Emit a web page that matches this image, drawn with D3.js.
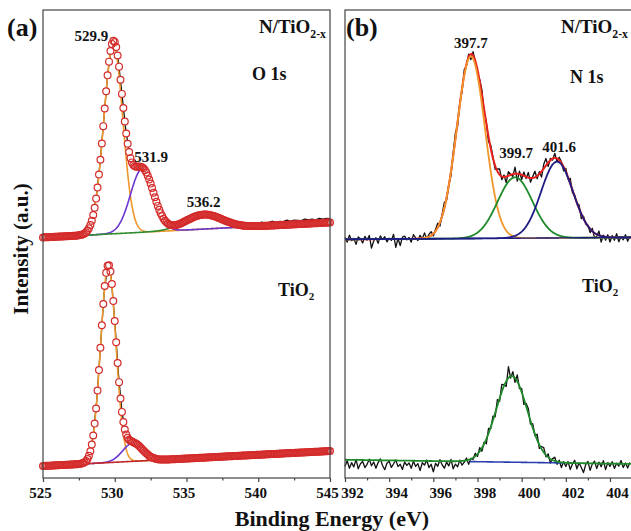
<!DOCTYPE html>
<html>
<head>
<meta charset="utf-8">
<script src="https://cdn.jsdelivr.net/npm/d3@7"></script>
<style>
  body { margin: 0; background: #fff; }
  svg { display: block; }
  text { font-family: "Liberation Serif", "Times New Roman", serif; font-weight: bold; fill: #111; }
</style>
</head>
<body>
<svg id="chart" width="631" height="531"></svg>
<script>
// ---- data ----
// (a) O 1s, energies in eV, intensities in a.u. (stacked offset already included)
var o1sRange = [525, 545];
var o1sTicks = [525, 530, 535, 540, 545];
var o1sMinor = [527.5, 532.5, 537.5, 542.5];

var o1sDopedBg = [51.4, 54.6];              // linear background at 525 / 545
var o1sDopedCenters = [529.9, 531.9, 536.2];
var o1sDopedHeights = [40.6, 13.5, 3.1];
var o1sDopedFwhm = [1.55, 1.9, 3.0];
var o1sDopedLabels = ["529.9", "531.9", "536.2"];
// raw minus fit, 525..545 every 0.25 eV
var o1sDopedResid = [
  -0.4, -0.6, -0.3, -0.5, -0.4, -0.6, -0.3, -0.2,
  -0.2, -0.1, 0, 0, 0, 0, 0, 0,
  0, 0, 0, 0, 0, 0, 0, 0,
  0, 0, 0, 0, 0, 0, 0, 0,
  0, 0, 0.1, 0, 0.1, 0, 0.1, 0,
  0, 0.1, 0, 0, 0, 0.1, 0, 0.1,
  0, 0.1, 0.2, 0.1, 0.2, 0.1, 0.2, 0.3,
  0.2, 0.3, 0.5, 0.3, 0.6, 0.8, 0.5, 0.7,
  0.9, 0.6, 0.8, 0.7, 1.0, 0.7, 0.9, 0.8,
  0.7, 1.0, 0.8, 0.9, 0.7, 1.0, 0.8, 0.9,
  0.8
];

var o1sPureBg = [2.56, 5.76];
var o1sPureCenters = [529.55, 531.25];
var o1sPureHeights = [42.1, 3.9];
var o1sPureFwhm = [1.25, 1.65];
var o1sPureResid = [
  -0.2, -0.3, -0.1, -0.3, -0.2, -0.1, -0.2, -0.1,
  0, 0, 0, 0, 0, 0, 0, 0,
  0, 0, 0, 0, 0, 0, 0, 0,
  0, 0, 0, 0, 0, 0, 0, 0,
  0, 0, 0, 0, 0, 0, 0, 0,
  0, 0.1, 0, 0, 0.1, 0, 0, 0.1,
  0, 0, 0.1, 0, 0, 0.1, 0, 0.1,
  0.1, 0.2, 0.1, 0.3, 0.2, 0.4, 0.3, 0.5,
  0.6, 0.4, 0.7, 0.5, 0.6, 0.7, 0.5, 0.6,
  0.5, 0.6, 0.4, 0.5, 0.6, 0.4, 0.5, 0.4,
  0.4
];

// (b) N 1s
var n1sRange = [392, 405];
var n1sTicks = [392, 394, 396, 398, 400, 402, 404];
var n1sMinor = [393, 395, 397, 399, 401, 403];

var n1sDopedBg = [51.0, 51.4];
var n1sDopedCenters = [397.7, 399.7, 401.6];
var n1sDopedHeights = [38.9, 13.0, 16.3];
var n1sDopedFwhm = [1.5, 1.85, 1.7];
var n1sDopedLabels = ["397.7", "399.7", "401.6"];
// raw minus fit, 392.0..404.9 every 0.1 eV
var n1sDopedResid = [
  0.4, -0.6, 0.9, -0.3, 0.2, -1.1, 0.5, 0.1, -0.8, 0.6,
  -0.2, 0.8, -1.9, -0.4, 0.3, -0.9, 0.7, -0.1, 0.5, -0.6,
  0.2, -0.3, 1.0, -1.8, 0.1, -1.4, 0.4, 0.6, -0.2, 0.3,
  -0.7, 0.9, 0.2, -0.4, 0.7, -0.1, 1.1, -0.3, 0.5, 0.8,
  -0.5, 0.3, 0.9, -0.8, 0.4, 1.2, -0.6, 0.2, -0.9, 0.7,
  1.3, -1.0, 0.5, -0.7, 1.1, -0.4, 0.6, -1.2, 0.8, -0.3,
  -0.9, 0.4, 1.0, -0.6, 0.3, -1.1, 0.7, 0.2, -0.8, 0.5,
  1.2, -0.7, 0.4, -1.3, 0.9, 0.1, -0.5, 1.4, -1.6, 0.6,
  -1.0, 0.8, -0.4, 1.1, -0.9, 0.3, 1.3, -0.6, 0.5, -1.2,
  0.9, 1.5, -0.8, 0.4, -0.3, 1.0, -0.7, 0.6, 0.2, -0.9,
  0.7, -0.4, 1.1, -0.6, 0.3, -0.2, 0.8, -1.0, 0.5, -0.3,
  0.2, -0.8, 0.6, -1.1, -0.4, 0.9, -1.3, 0.3, -0.7, 0.5,
  -1.0, 0.4, -0.6, 0.8, -0.9, 0.2, -0.5, 0.6, -0.8, 0.3
];

var n1sPureBg = [3.9, 3.0];
var n1sPureCenters = [399.55];
var n1sPureHeights = [18.4];
var n1sPureFwhm = [1.66];
var n1sPureBaseSpan = [397.65, 401.9];
var n1sPureResid = [
  -1.4, -0.2, -1.8, -0.6, -1.5, 0.1, -1.9, -0.8, -0.3, -1.6,
  -0.9, 0.2, -1.2, -0.4, -1.7, -0.5, 0.3, -1.1, -2.0, -0.6,
  -0.2, -1.5, -0.7, 0.1, -1.3, -0.8, -1.9, -0.3, -1.0, -0.5,
  -1.6, -0.1, -1.2, -0.6, -2.1, -0.4, -0.9, 0.2, -1.4, -0.7,
  -2.3, -0.5, -1.1, 0.3, -0.8, -1.5, -0.2, -1.0, 0.4, -1.6,
  -0.6, -1.2, 0.2, -0.9, -0.3, 0.5, -1.0, 0.1, -0.4, 0.6,
  -0.5, 0.8, -0.7, 0.4, -1.0, 1.1, -0.3, 0.9, -0.8, 1.3,
  -0.6, 1.6, 0.3, -1.1, 2.4, -0.4, 1.0, -0.9, 1.4, -0.5,
  0.8, -1.2, 0.6, 1.1, -0.7, 0.9, -0.3, 1.2, -0.8, 0.5,
  1.0, -0.4, 0.7, -0.9, 0.3, 0.8, -0.6, 0.4, -1.1, 0.2,
  -0.8, 0.3, -1.4, -0.2, 0.6, -1.2, 0.1, -0.9, -2.0, -0.3,
  0.4, -1.5, -0.1, 0.5, -1.1, 0.3, -0.7, 0.6, -1.3, 0.2,
  -0.6, 0.4, -1.0, 0.1, -0.5, 0.7, -0.8, 0.2, -0.9, 0.3
];

// ---- styles ----
var col = {
  orange: "#f0962a", purple: "#6a35d0", greenA: "#2e8b2e", greenB: "#1e8a2a",
  navy: "#1c1c82", env: "#e8201c", circle: "#d42b2b", bgA: "#c0282a", frame: "#444"
};

var svg = d3.select("#chart");
var plotTop = 10, plotBottom = 478;
var y = d3.scaleLinear().domain([0, 100]).range([plotBottom, plotTop]);
var xA = d3.scaleLinear().domain(o1sRange).range([43, 330]);
var xB = d3.scaleLinear().domain([392, 404]).range([345, 610]);

function gauss(c, h, w) {
  return function (e) { return h * Math.exp(-4 * Math.LN2 * (e - c) * (e - c) / (w * w)); };
}
function bgFn(bg, range) {
  return function (e) { return bg[0] + (bg[1] - bg[0]) * (e - range[0]) / (range[1] - range[0]); };
}
function envelope(bg, comps) {
  return function (e) { return bg(e) + d3.sum(comps, function (f) { return f(e); }); };
}
function steps(a, b, s) {
  var n = Math.round((b - a) / s);
  return d3.range(n + 1).map(function (i) { return a + i * s; });
}
function drawCurve(g, x, fn, span, color, width) {
  var line = d3.line().x(function (e) { return x(e); }).y(function (e) { return y(fn(e)); });
  g.append("path").datum(steps(span[0], span[1], 0.02))
    .attr("d", line).attr("fill", "none")
    .attr("stroke", color).attr("stroke-width", width);
}
function drawRaw(g, x, fit, start, step, resid) {
  var line = d3.line()
    .x(function (d, i) { return x(start + i * step); })
    .y(function (d, i) { return y(fit(start + i * step) + d); });
  g.append("path").datum(resid).attr("d", line).attr("fill", "none")
    .attr("stroke", "#111").attr("stroke-width", 1.3).attr("stroke-linejoin", "round");
}
function addSubText(g, x0, y0, main, sub, size) {
  var t = g.append("text").attr("x", x0).attr("y", y0).attr("font-size", size).attr("text-anchor", "end");
  t.append("tspan").text(main);
  t.append("tspan").attr("dy", 5).attr("font-size", size * 0.62).text(sub);
}

// ---------------- panel (a) ----------------
var ga = svg.append("g");

function drawO1s(bg, centers, heights, fwhm, resid, colors, bgColor) {
  var bgf = bgFn(bg, o1sRange);
  var comps = centers.map(function (c, i) { return gauss(c, heights[i], fwhm[i]); });
  var env = envelope(bgf, comps);
  drawRaw(ga, xA, env, o1sRange[0], 0.25, resid);
  comps.forEach(function (f, i) {
    drawCurve(ga, xA, function (e) { return bgf(e) + f(e); }, o1sRange, colors[i], 1.6);
  });
  if (bgColor) drawCurve(ga, xA, bgf, o1sRange, bgColor, 1.6);
  var pts = steps(o1sRange[0], o1sRange[1], 0.1);
  // white interiors first, then every outline on top
  ["fill", "ring"].forEach(function (pass) {
    ga.append("g").selectAll("circle").data(pts)
      .enter().append("circle")
      .attr("cx", function (e) { return xA(e); })
      .attr("cy", function (e) { return y(env(e)); })
      .attr("r", 3.4)
      .attr("fill", pass === "fill" ? "#fff" : "none")
      .attr("stroke", pass === "fill" ? "none" : col.circle)
      .attr("stroke-width", 1.2);
  });
  return env;
}

var envA1 = drawO1s(o1sDopedBg, o1sDopedCenters, o1sDopedHeights, o1sDopedFwhm, o1sDopedResid,
  [col.orange, col.purple, col.greenA], null);
drawO1s(o1sPureBg, o1sPureCenters, o1sPureHeights, o1sPureFwhm, o1sPureResid,
  [col.orange, col.purple], col.bgA);

// frame + axis
ga.append("rect").attr("x", xA(525)).attr("y", plotTop)
  .attr("width", xA(545) - xA(525)).attr("height", plotBottom - plotTop)
  .attr("fill", "none").attr("stroke", col.frame).attr("stroke-width", 1.2);
var axA = ga.append("g").attr("transform", "translate(0," + plotBottom + ")")
  .call(d3.axisBottom(xA).tickValues(o1sTicks).tickSize(4).tickSizeOuter(0).tickFormat(d3.format("d")));
ga.append("g").attr("transform", "translate(0," + plotBottom + ")")
  .call(d3.axisBottom(xA).tickValues(o1sMinor).tickSize(2.5).tickSizeOuter(0).tickFormat(""))
  .select(".domain").remove();

// peak labels (a)
var labA = [{anchor: "end", dx: -5, dy: 4}, {anchor: "middle", dx: 9, dy: -2}, {anchor: "middle", dx: 0, dy: -4}];
o1sDopedLabels.forEach(function (s, i) {
  var c = o1sDopedCenters[i];
  ga.append("text").attr("x", xA(c) + labA[i].dx).attr("y", y(envA1(c)) - 3.5 + labA[i].dy)
    .attr("text-anchor", labA[i].anchor).attr("font-size", 15).text(s);
});

// ---------------- panel (b) ----------------
var gb = svg.append("g");

// N/TiO2-x
var bgB1 = bgFn(n1sDopedBg, n1sRange);
var compsB1 = n1sDopedCenters.map(function (c, i) { return gauss(c, n1sDopedHeights[i], n1sDopedFwhm[i]); });
var envB1 = envelope(bgB1, compsB1);
drawRaw(gb, xB, envB1, 392, 0.1, n1sDopedResid);
drawCurve(gb, xB, envB1, n1sRange, col.env, 2);
[col.orange, col.greenB, col.navy].forEach(function (c, i) {
  drawCurve(gb, xB, function (e) { return bgB1(e) + compsB1[i](e); }, n1sRange, c, 1.8);
});
drawCurve(gb, xB, bgB1, n1sRange, col.navy, 1.4);

// TiO2
var bgB2 = bgFn(n1sPureBg, n1sRange);
var compsB2 = n1sPureCenters.map(function (c, i) { return gauss(c, n1sPureHeights[i], n1sPureFwhm[i]); });
var envB2 = envelope(bgB2, compsB2);
drawRaw(gb, xB, envB2, 392, 0.1, n1sPureResid);
drawCurve(gb, xB, bgB2, n1sPureBaseSpan, "#2b3fb0", 1.6);
drawCurve(gb, xB, envB2, n1sRange, col.greenB, 1.8);

gb.append("rect").attr("x", xB(392)).attr("y", plotTop)
  .attr("width", xB(405.4) - xB(392)).attr("height", plotBottom - plotTop)
  .attr("fill", "none").attr("stroke", col.frame).attr("stroke-width", 1.2);
var axB = gb.append("g").attr("transform", "translate(0," + plotBottom + ")")
  .call(d3.axisBottom(xB).tickValues(n1sTicks).tickSize(4).tickSizeOuter(0).tickFormat(d3.format("d")));
gb.append("g").attr("transform", "translate(0," + plotBottom + ")")
  .call(d3.axisBottom(xB).tickValues(n1sMinor).tickSize(2.5).tickSizeOuter(0).tickFormat(""))
  .select(".domain").remove();

var labB = [{dx: 0, dy: -6}, {dx: 1, dy: -16}, {dx: 2, dy: -6}];
n1sDopedLabels.forEach(function (s, i) {
  var c = n1sDopedCenters[i];
  gb.append("text").attr("x", xB(c) + labB[i].dx).attr("y", y(envB1(c)) + labB[i].dy)
    .attr("text-anchor", "middle").attr("font-size", 15).text(s);
});

// axis styling
[axA, axB].forEach(function (ax, k) {
  ax.select(".domain").remove();
  ax.selectAll(".tick text").attr("font-size", 15).attr("font-family", "Liberation Serif, serif")
    .attr("font-weight", "bold").attr("fill", "#111").attr("dy", 0).attr("y", 20)
    .attr("dx", k === 0 ? -3 : 7);
});
svg.selectAll(".tick line").attr("stroke", col.frame).attr("stroke-width", 1.2);

// ---------------- titles ----------------
svg.append("text").attr("x", 7).attr("y", 36).attr("font-size", 26).text("(a)");
svg.append("text").attr("x", 346).attr("y", 36).attr("font-size", 26).text("(b)");
addSubText(svg, 326, 33, "N/TiO", "2-x", 19);
addSubText(svg, 628, 33, "N/TiO", "2-x", 19);
svg.append("text").attr("x", 252).attr("y", 80).attr("font-size", 18).text("O 1s");
svg.append("text").attr("x", 570).attr("y", 83).attr("font-size", 18).text("N 1s");
var t1 = svg.append("text").attr("x", 278).attr("y", 296).attr("font-size", 18);
t1.append("tspan").text("TiO");
t1.append("tspan").attr("dy", 4).attr("font-size", 11).text("2");
var t2 = svg.append("text").attr("x", 582).attr("y", 292).attr("font-size", 18);
t2.append("tspan").text("TiO");
t2.append("tspan").attr("dy", 4).attr("font-size", 11).text("2");

svg.append("text").attr("x", 332).attr("y", 526).attr("text-anchor", "middle")
  .attr("font-size", 22).text("Binding Energy (eV)");
svg.append("text").attr("transform", "translate(28,249) rotate(-90)")
  .attr("text-anchor", "middle").attr("font-size", 21).text("Intensity (a.u.)");
</script>
</body>
</html>
